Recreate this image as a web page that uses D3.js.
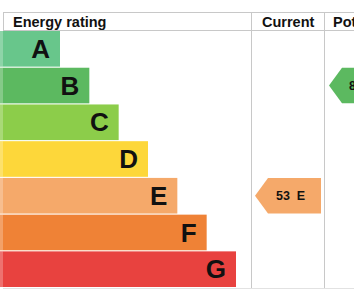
<!DOCTYPE html>
<meta charset="utf-8">
<style>
body { margin: 0; background: #fff; }
text { font-family: "Liberation Sans", Arial, sans-serif; font-weight: bold; fill: #111; }
</style>
<svg width="354" height="301"></svg>
<script src="https://d3js.org/d3.v7.min.js"></script>
<script>

var ratings = ["A", "B", "C", "D", "E", "F", "G"];
var bandLevels = [1, 2, 3, 4, 5, 6, 7];
var bandColors = ["#68c68b", "#5cb960", "#8ccd4a", "#fdd73a", "#f5a96a", "#ef8236", "#e8423f"];
var columns = ["Energy rating", "Current", "Potential"];
var current = { value: 53, rating: "E" };
var potential = { value: 85, rating: "B" };

var svg = d3.select("svg");

var y = d3.scaleBand().domain(ratings).range([31, 287]).paddingInner(0.03);
var w = d3.scaleLinear().domain([1, 7]).range([60, 236]);

var grid = "#c8c8c8";

// table lines
svg.append("line").attr("x1", 3).attr("x2", 354).attr("y1", 12.5).attr("y2", 12.5).attr("stroke", grid);
svg.append("line").attr("x1", 3).attr("x2", 354).attr("y1", 30.5).attr("y2", 30.5).attr("stroke", grid);
svg.append("line").attr("x1", 3).attr("x2", 354).attr("y1", 288.5).attr("y2", 288.5).attr("stroke", "#e2e2e2");
svg.append("line").attr("x1", 3.5).attr("x2", 3.5).attr("y1", 12).attr("y2", 31).attr("stroke", grid);
[251.5, 324.5].forEach(function(x) {
  svg.append("line").attr("x1", x).attr("x2", x).attr("y1", 12).attr("y2", 288).attr("stroke", grid);
});

// headers
svg.selectAll(".hdr")
    .data(columns)
  .enter().append("text")
    .attr("class", "hdr")
    .attr("x", function(d, i) { return [13, 262, 333][i]; })
    .attr("y", 27)
    .attr("font-size", 14.5)
    .text(function(d) { return d; });

// bars
var bars = svg.append("g").selectAll("g")
    .data(ratings)
  .enter().append("g");

bars.append("rect")
    .attr("x", 0)
    .attr("y", function(d) { return y(d); })
    .attr("width", function(d, i) { return w(bandLevels[i]); })
    .attr("height", y.bandwidth())
    .attr("fill", function(d, i) { return bandColors[i]; });

bars.append("rect")
    .attr("x", 0)
    .attr("y", function(d) { return y(d); })
    .attr("width", 3)
    .attr("height", y.bandwidth())
    .attr("fill", "#fff")
    .attr("opacity", 0.25);

bars.append("text")
    .attr("x", function(d, i) { return w(bandLevels[i]) - 10; })
    .attr("y", function(d) { return y(d) + 27; })
    .attr("text-anchor", "end")
    .attr("font-size", 26)
    .text(function(d) { return d; });

// arrows
function arrow(x0, x1, rating, color, label, tx) {
  var top = y(rating), h = y.bandwidth(), mid = top + h / 2;
  var g = svg.append("g");
  g.append("path")
      .attr("d", d3.line()([[x0, mid], [x0 + 13, top], [x1, top], [x1, top + h], [x0 + 13, top + h]]) + "Z")
      .attr("fill", color);
  g.append("text")
      .attr("x", tx)
      .attr("y", mid + 4.5)
      .attr("font-size", 12.5)
      .attr("xml:space", "preserve")
      .text(label);
}

arrow(255, 321, current.rating, bandColors[ratings.indexOf(current.rating)], current.value + "  " + current.rating, 276);
arrow(329, 400, potential.rating, bandColors[ratings.indexOf(potential.rating)], potential.value + "  " + potential.rating, 349);

</script>
